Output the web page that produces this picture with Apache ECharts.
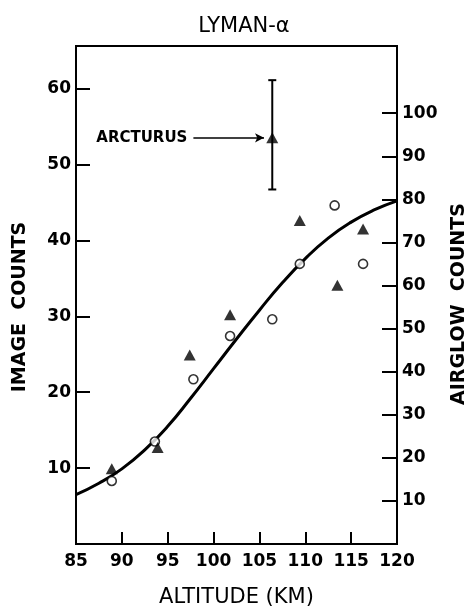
<!DOCTYPE html>
<html><head><meta charset="utf-8">
<script src="https://cdn.jsdelivr.net/npm/echarts@6/dist/echarts.min.js"></script>
<style>html,body{margin:0;padding:0;background:#fff}#c{width:467px;height:607px}</style>
</head><body><div id="c"></div>
<script>
const titleText = 'LYMAN-α';
const xName = 'ALTITUDE (KM)';
const leftName = 'IMAGE  COUNTS';
const rightName = 'AIRGLOW  COUNTS';
const xTicks = [85, 90, 95, 100, 105, 110, 115, 120];
const leftTicks = [10, 20, 30, 40, 50, 60];
const rightTicks = [10, 20, 30, 40, 50, 60, 70, 80, 90, 100];
const triangleX = [88.9, 93.9, 97.4, 101.8, 109.4, 113.5, 116.3];
const triangleY = [9.9, 12.7, 24.9, 30.2, 42.6, 34.1, 41.5];
const circleX = [88.9, 93.6, 97.8, 101.8, 106.4, 109.4, 113.2, 116.3];
const circleY = [8.3, 13.5, 21.7, 27.4, 29.6, 36.9, 44.6, 36.9];
const curveX = [85, 87.5, 90, 92.5, 95, 97.5, 100, 102.5, 105, 107.5, 110, 112.5, 115, 117.5, 120];
const curveY = [6.5, 8.0, 9.9, 12.4, 15.5, 19.2, 23.1, 27.0, 30.8, 34.4, 37.6, 40.3, 42.4, 44.0, 45.2];
const arcturusX = [106.4];
const arcturusY = [53.5];
const arcturusLow = [46.7];
const arcturusHigh = [61.1];
const arrowLabel = 'ARCTURUS';
const arrowStartX = 97.8;
const arrowEndX = 105.5;

const FONT = 'DejaVu Sans';
const chart = echarts.init(document.getElementById('c'), null, {renderer: 'canvas'});

const zip = (a, b) => a.map((v, i) => [v, b[i]]);
const labelStyle = {fontFamily: FONT, fontSize: 17, fontWeight: 'bold', color: '#000'};

chart.setOption({
  animation: false,
  backgroundColor: '#fff',
  title: {
    text: titleText, left: 239, top: 11, textAlign: 'center',
    textStyle: {fontFamily: FONT, fontSize: 21, fontWeight: 'normal', color: '#000'}
  },
  grid: {left: 76, right: 70, top: 46, bottom: 63, outerBoundsMode: 'none', containLabel: false,
    show: true, borderColor: '#000', borderWidth: 2, backgroundColor: 'transparent'},
  xAxis: {
    type: 'value', min: 85, max: 120, interval: 5,
    name: xName, nameLocation: 'middle', nameGap: 43,
    nameTextStyle: {fontFamily: FONT, fontSize: 21, color: '#000'},
    axisLine: {lineStyle: {color: '#000', width: 2}},
    axisTick: {inside: true, length: 12, lineStyle: {color: '#000', width: 2}, customValues: xTicks},
    axisLabel: Object.assign({margin: 9, customValues: xTicks}, labelStyle),
    splitLine: {show: false}
  },
  yAxis: [{
    type: 'value', min: 0, max: 65.6, interval: 10, position: 'left',
    axisLine: {show: true, lineStyle: {color: '#000', width: 2}},
    axisTick: {inside: true, length: 14, lineStyle: {color: '#000', width: 2}, customValues: leftTicks},
    axisLabel: Object.assign({margin: 5, customValues: leftTicks}, labelStyle),
    splitLine: {show: false}
  }, {
    type: 'value', min: 0, max: 115.6, interval: 10, position: 'right',
    axisLine: {show: true, lineStyle: {color: '#000', width: 2}},
    axisTick: {inside: true, length: 15, lineStyle: {color: '#000', width: 2}, customValues: rightTicks},
    axisLabel: Object.assign({margin: 5, customValues: rightTicks}, labelStyle),
    splitLine: {show: false}
  }],
  graphic: [
    {type: 'text', x: 20, y: 307, rotation: Math.PI / 2,
      style: {text: leftName, fontFamily: FONT, fontSize: 19, fontWeight: 'bold', fill: '#000', textAlign: 'center', textVerticalAlign: 'middle'}},
    {type: 'text', x: 459, y: 304, rotation: Math.PI / 2,
      style: {text: rightName, fontFamily: FONT, fontSize: 19, fontWeight: 'bold', fill: '#000', textAlign: 'center', textVerticalAlign: 'middle'}}
  ],
  series: [
    {
      type: 'line', data: zip(curveX, curveY), smooth: 0.5, showSymbol: false,
      lineStyle: {color: '#000', width: 3}, z: 2
    },
    {
      type: 'scatter', data: zip(circleX, circleY), symbol: 'circle', symbolSize: 9,
      itemStyle: {color: '#fff', borderColor: '#000', borderWidth: 1.6}, z: 4
    },
    {
      type: 'scatter', data: zip(triangleX, triangleY), symbol: 'triangle', symbolSize: [12, 11],
      itemStyle: {color: '#000'}, z: 5
    },
    {
      type: 'custom',
      data: arcturusX.map((x, i) => [x, arcturusLow[i], arcturusHigh[i]]),
      encode: {x: 0, y: [1, 2]},
      renderItem: (params, api) => {
        const x = api.value(0);
        const top = api.coord([x, api.value(2)]);
        const bot = api.coord([x, api.value(1)]);
        const w = 4;
        const st = {stroke: '#000', lineWidth: 2};
        return {type: 'group', children: [
          {type: 'line', shape: {x1: top[0], y1: top[1], x2: bot[0], y2: bot[1]}, style: st},
          {type: 'line', shape: {x1: top[0] - w, y1: top[1], x2: top[0] + w, y2: top[1]}, style: st},
          {type: 'line', shape: {x1: bot[0] - w, y1: bot[1], x2: bot[0] + w, y2: bot[1]}, style: st}
        ]};
      },
      z: 3
    },
    {
      type: 'scatter', data: zip(arcturusX, arcturusY), symbol: 'triangle', symbolSize: [12, 11],
      itemStyle: {color: '#000'}, z: 6,
      markLine: {
        silent: true, animation: false,
        symbol: ['none', 'arrow'], symbolSize: [7, 9],
        lineStyle: {color: '#000', width: 1.5, type: 'solid'},
        label: {show: true, position: 'start', formatter: arrowLabel, distance: 6,
          fontFamily: FONT, fontSize: 15, fontWeight: 'bold', color: '#000'},
        data: [[{coord: [arrowStartX, arcturusY[0]]}, {coord: [arrowEndX, arcturusY[0]]}]]
      }
    }
  ]
});
</script>
</body></html>
